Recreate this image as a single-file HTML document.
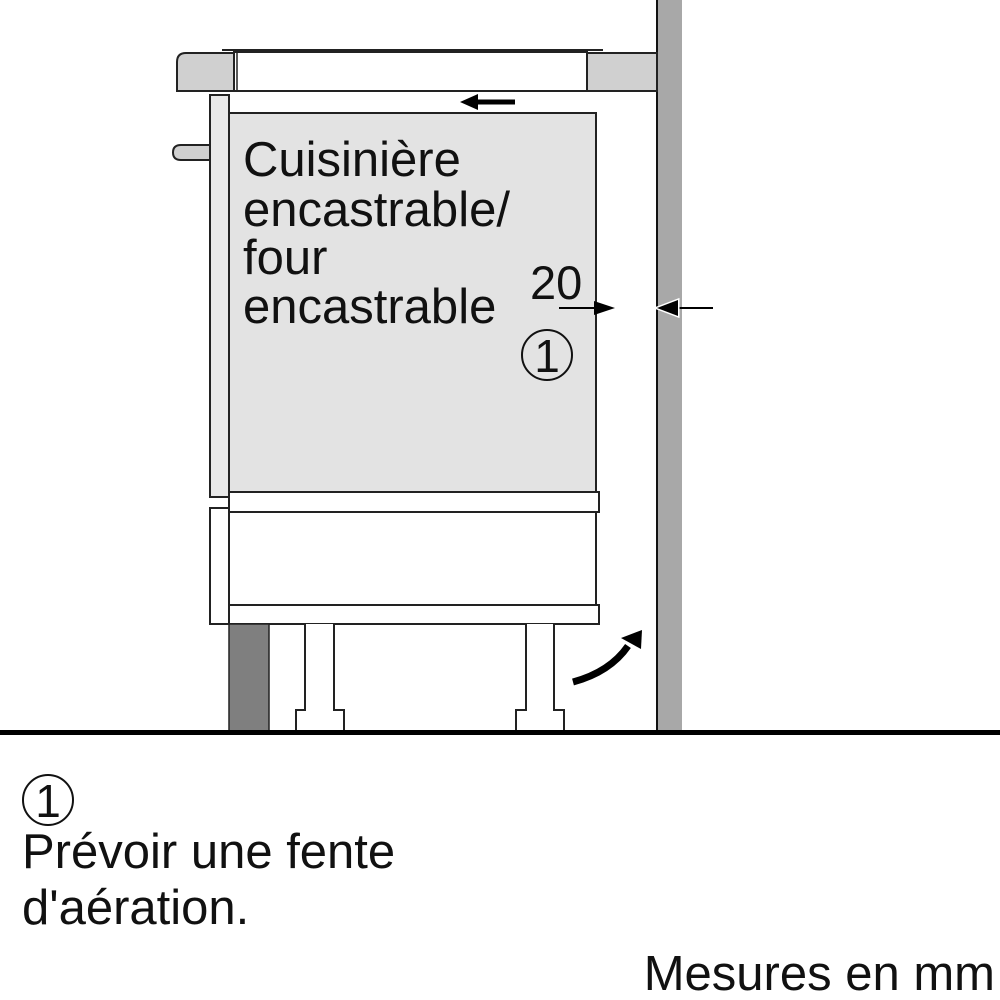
<!DOCTYPE html>
<html><head><meta charset="utf-8"><style>
html,body{margin:0;padding:0;background:#fff;}
svg{display:block}
text{font-family:"Liberation Sans",Arial,sans-serif;fill:#111}
</style></head><body>
<svg width="1000" height="1000" viewBox="0 0 1000 1000" xmlns="http://www.w3.org/2000/svg">
<!-- wall -->
<rect x="657" y="0" width="25" height="732" fill="#a8a8a8"/>
<line x1="657" y1="0" x2="657" y2="732" stroke="#111" stroke-width="2"/>
<!-- countertop -->
<line x1="222" y1="50" x2="603" y2="50" stroke="#222" stroke-width="2"/>
<rect x="234" y="52" width="353" height="39" fill="#fff" stroke="#222" stroke-width="2"/>
<path d="M234,53 L186,53 Q177,53 177,62 L177,91 L234,91 Z" fill="#d0d0d0" stroke="#222" stroke-width="2"/>
<line x1="237" y1="53" x2="237" y2="91" stroke="#222" stroke-width="1.5"/>
<rect x="587" y="53" width="70" height="38" fill="#d0d0d0" stroke="#222" stroke-width="2"/>
<!-- top arrow -->
<line x1="475" y1="102" x2="515" y2="102" stroke="#000" stroke-width="5"/>
<polygon points="460,102 478,94 478,110" fill="#000"/>
<!-- knob -->
<path d="M210,145 L181,145 Q173,145 173,152.5 Q173,160 181,160 L210,160 Z" fill="#d0d0d0" stroke="#222" stroke-width="2"/>
<!-- left panel -->
<rect x="210" y="95" width="19" height="402" fill="#e8e8e8" stroke="#222" stroke-width="2"/>
<!-- oven box -->
<rect x="229" y="113" width="367" height="379" fill="#e3e3e3" stroke="#222" stroke-width="2"/>
<!-- drawer -->
<rect x="229" y="492" width="370" height="20" fill="#fff" stroke="#222" stroke-width="2"/>
<rect x="229" y="512" width="367" height="93" fill="#fff" stroke="#222" stroke-width="2"/>
<rect x="229" y="605" width="370" height="19" fill="#fff" stroke="#222" stroke-width="2"/>
<rect x="210" y="508" width="19" height="116" fill="#fff" stroke="#222" stroke-width="2"/>
<!-- plinth -->
<rect x="229" y="624" width="40" height="108" fill="#7f7f7f" stroke="#222" stroke-width="1.5"/>
<!-- legs -->
<path d="M305,624 L305,710 L296,710 L296,731 L344,731 L344,710 L334,710 L334,624" fill="#fff" stroke="#222" stroke-width="2"/>
<path d="M526,624 L526,710 L516,710 L516,731 L564,731 L564,710 L554,710 L554,624" fill="#fff" stroke="#222" stroke-width="2"/>
<!-- floor -->
<rect x="0" y="730" width="1000" height="5" fill="#000"/>
<!-- curved arrow -->
<path d="M573,682 Q610,672 628,646" fill="none" stroke="#000" stroke-width="7"/>
<polygon points="642,630 621,638 641,649" fill="#000"/>
<!-- text -->
<text x="243" y="176" font-size="49">Cuisinière</text>
<text x="243" y="226" font-size="49">encastrable/</text>
<text x="243" y="274" font-size="49">four</text>
<text x="243" y="323" font-size="49">encastrable</text>
<text x="530" y="299" font-size="47">20</text>
<!-- dimension arrows -->
<line x1="559" y1="308" x2="600" y2="308" stroke="#000" stroke-width="2"/>
<polygon points="615,308 594,301 594,315" fill="#000"/>
<line x1="670" y1="308" x2="713" y2="308" stroke="#000" stroke-width="2"/>
<polygon points="657,308 678,300 678,316" fill="#000" stroke="#fff" stroke-width="3" stroke-linejoin="miter"/>
<polygon points="657,308 678,300 678,316" fill="#000"/>
<circle cx="547" cy="355" r="25" fill="none" stroke="#111" stroke-width="2"/>
<text x="547" y="372" font-size="46" text-anchor="middle">1</text>
<circle cx="48" cy="800" r="25" fill="none" stroke="#111" stroke-width="2"/>
<text x="48" y="817" font-size="46" text-anchor="middle">1</text>
<text x="22" y="868" font-size="49">Prévoir une fente</text>
<text x="22" y="924" font-size="49">d'aération.</text>
<text x="995" y="990" font-size="49" text-anchor="end">Mesures en mm</text>
</svg>
</body></html>
